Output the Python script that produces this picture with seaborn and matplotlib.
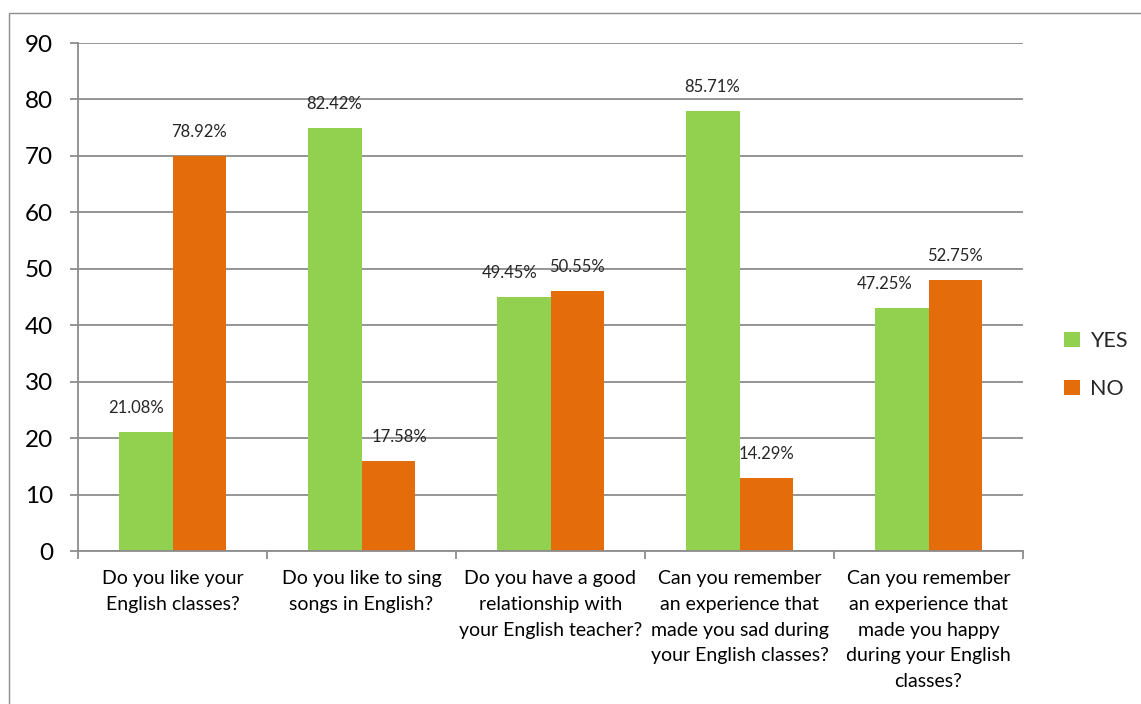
import matplotlib
matplotlib.use("Agg")
import matplotlib.pyplot as plt
import seaborn as sns
import pandas as pd
from matplotlib.patches import Rectangle
from matplotlib.ticker import FixedLocator

questions = [
    "Do you like your\nEnglish classes?",
    "Do you like to sing\nsongs in English?",
    "Do you have a good\nrelationship with\nyour English teacher?",
    "Can you remember\nan experience that\nmade you sad during\nyour English classes?",
    "Can you remember\nan experience that\nmade you happy\nduring your English\nclasses?",
]
answers = ["YES", "NO"]
yes_counts = [21, 75, 45, 78, 43]
no_counts = [70, 16, 46, 13, 48]
yes_pct = ["21.08%", "82.42%", "49.45%", "85.71%", "47.25%"]
no_pct = ["78.92%", "17.58%", "50.55%", "14.29%", "52.75%"]
y_ticks = [0, 10, 20, 30, 40, 50, 60, 70, 80, 90]

GREEN = "#92D050"
ORANGE = "#E46C0A"
GRID = "#8C8C8C"

df = pd.DataFrame({
    "question": questions * 2,
    "answer": ["YES"] * len(questions) + ["NO"] * len(questions),
    "count": yes_counts + no_counts,
})

sns.set_theme(style="white")
plt.rcParams["font.family"] = ["Lato", "DejaVu Sans"]

W, H = 1141, 704
fig = plt.figure(figsize=(W / 100, H / 100), dpi=100)
ax = fig.add_axes([78 / W, (H - 551) / H, (1023 - 78) / W, (551 - 43) / H])

sns.barplot(data=df, x="question", y="count", hue="answer", order=questions,
            hue_order=answers, palette=[GREEN, ORANGE], saturation=1,
            width=0.57, linewidth=0, ax=ax, legend=True)

# horizontal nudges (points) so neighbouring value labels don't collide
label_nudge = [(-7, 0, -10, 0, -12), (0, 8, 0, 0, 0)]
for container, labels, nudge in zip(ax.containers, [yes_pct, no_pct], label_nudge):
    anns = ax.bar_label(container, labels=labels, padding=11.5, fontsize=12,
                        color="#262626")
    for ann, dx in zip(anns, nudge):
        ox, oy = ann.xyann
        ann.xyann = (ox + dx, oy)

ax.set_ylim(0, 90)
ax.set_xlim(-0.5, len(questions) - 0.5)
ax.set_yticks(y_ticks)
ax.yaxis.grid(True, color=GRID, linewidth=1.3)
ax.set_axisbelow(True)
ax.set_xlabel("")
ax.set_ylabel("")

for side in ["top", "right"]:
    ax.spines[side].set_visible(False)
for side in ["left", "bottom"]:
    ax.spines[side].set_color(GRID)
    ax.spines[side].set_linewidth(1.3)

ax.tick_params(axis="y", which="major", length=6, width=1.3, color=GRID,
               labelsize=17.5, pad=12, labelcolor="black", left=True)
ax.tick_params(axis="x", which="major", length=0, labelsize=14, pad=14,
               labelcolor="black")
ax.xaxis.set_minor_locator(FixedLocator([i - 0.5 for i in range(len(questions) + 1)]))
ax.tick_params(axis="x", which="minor", length=6, width=1.3, color=GRID,
               bottom=True)
for lbl in ax.get_xticklabels():
    lbl.set_verticalalignment("top")
    lbl.set_linespacing(1.62)

leg = ax.legend(loc="center left", bbox_to_anchor=(1.023, 0.366), frameon=False,
                fontsize=15.5, handlelength=0.75, handleheight=0.75,
                labelspacing=1.3, handletextpad=0.45)

# chart frame
fig.patches.append(Rectangle((9 / W, -0.1), 1.2, 0.1 + (H - 13) / H,
                             transform=fig.transFigure, fill=False,
                             edgecolor=GRID, linewidth=1.0))

fig.savefig("out.png", dpi=100)
